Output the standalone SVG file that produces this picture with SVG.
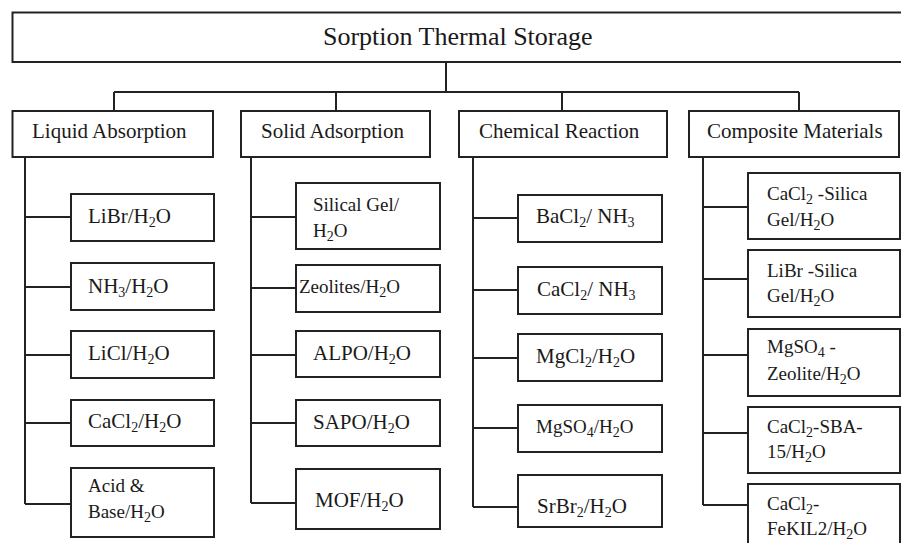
<svg xmlns="http://www.w3.org/2000/svg" width="901" height="543" viewBox="0 0 901 543">
<style>
.box{fill:#fff;stroke:#222;stroke-width:2}
.ln{fill:none;stroke:#222;stroke-width:2}
text{font-family:"Liberation Serif","Times New Roman",serif;fill:#1a1a1a}
.t{font-size:26px}
.c{font-size:21px}
.n{font-size:21px}
.s{font-size:19px}
.sub{font-size:14px}
</style>
<rect width="901" height="543" fill="#fff"/>
<g id="connectors">
<path class="ln" d="M446 62V92M114 92H799M114 92V111M336 92V111M562 92V111M799 92V111"/>
<path class="ln" d="M25 157V504M25 217H71M25 287H71M25 355H71M25 423H71M25 504H71"/>
<path class="ln" d="M251 157V503M251 217H296M251 288H296M251 355H296M251 423H296M251 503H296"/>
<path class="ln" d="M473 157V507M473 218H518M473 290H518M473 358H518M473 428H518M473 507H518"/>
<path class="ln" d="M703 157V505M703 207H748M703 279H748M703 355H748M703 433H748M703 505H748"/>
</g>
<g id="root"><rect class="box" x="12.5" y="12.5" width="900" height="49.5"/><text class="t" x="323" y="45">Sorption Thermal Storage</text></g>
<g id="cat-liquid"><rect class="box" x="12.5" y="111" width="200.5" height="46"/><text class="c" x="32" y="138">Liquid Absorption</text></g>
<g id="cat-solid"><rect class="box" x="241" y="111" width="189" height="46"/><text class="c" x="261" y="138">Solid Adsorption</text></g>
<g id="cat-chem"><rect class="box" x="459" y="111" width="208" height="46"/><text class="c" x="479" y="138">Chemical Reaction</text></g>
<g id="cat-comp"><rect class="box" x="689" y="111" width="210" height="46"/><text class="c" x="707" y="138">Composite Materials</text></g>

<g id="l1"><rect class="box" x="71" y="194" width="143" height="47"/><text class="n" x="88" y="223">LiBr/H<tspan class="sub" dy="4">2</tspan><tspan dy="-4">O</tspan></text></g>
<g id="l2"><rect class="box" x="71" y="263" width="143" height="47"/><text class="n" x="88" y="293">NH<tspan class="sub" dy="4">3</tspan><tspan dy="-4">/H</tspan><tspan class="sub" dy="4">2</tspan><tspan dy="-4">O</tspan></text></g>
<g id="l3"><rect class="box" x="71" y="331" width="143" height="47"/><text class="n" x="88" y="360">LiCl/H<tspan class="sub" dy="4">2</tspan><tspan dy="-4">O</tspan></text></g>
<g id="l4"><rect class="box" x="71" y="400" width="143" height="46"/><text class="n" x="88" y="428">CaCl<tspan class="sub" dy="4">2</tspan><tspan dy="-4">/H</tspan><tspan class="sub" dy="4">2</tspan><tspan dy="-4">O</tspan></text></g>
<g id="l5"><rect class="box" x="71" y="468" width="143" height="69"/><text class="s" x="88" y="492">Acid &amp;</text><text class="s" x="88" y="518">Base/H<tspan class="sub" dy="4">2</tspan><tspan dy="-4">O</tspan></text></g>

<g id="s1"><rect class="box" x="296" y="183" width="144" height="66"/><text class="s" x="313" y="211">Silical Gel/</text><text class="s" x="313" y="237">H<tspan class="sub" dy="4">2</tspan><tspan dy="-4">O</tspan></text></g>
<g id="s2"><rect class="box" x="296" y="265" width="144" height="47"/><text class="s" x="299" y="293">Zeolites/H<tspan class="sub" dy="4">2</tspan><tspan dy="-4">O</tspan></text></g>
<g id="s3"><rect class="box" x="296" y="331" width="144" height="46"/><text class="n" x="313" y="360">ALPO/H<tspan class="sub" dy="4">2</tspan><tspan dy="-4">O</tspan></text></g>
<g id="s4"><rect class="box" x="296" y="400" width="144" height="46"/><text class="n" x="313" y="429">SAPO/H<tspan class="sub" dy="4">2</tspan><tspan dy="-4">O</tspan></text></g>
<g id="s5"><rect class="box" x="296" y="469" width="144" height="60"/><text class="n" x="315" y="507">MOF/H<tspan class="sub" dy="4">2</tspan><tspan dy="-4">O</tspan></text></g>

<g id="c1"><rect class="box" x="518" y="195" width="144" height="47"/><text class="n" x="536" y="223">BaCl<tspan class="sub" dy="4">2</tspan><tspan dy="-4">/ NH</tspan><tspan class="sub" dy="4">3</tspan></text></g>
<g id="c2"><rect class="box" x="518" y="267" width="144" height="47"/><text class="n" x="537" y="296">CaCl<tspan class="sub" dy="4">2</tspan><tspan dy="-4">/ NH</tspan><tspan class="sub" dy="4">3</tspan></text></g>
<g id="c3"><rect class="box" x="518" y="334" width="144" height="47"/><text class="n" x="536" y="363">MgCl<tspan class="sub" dy="4">2</tspan><tspan dy="-4">/H</tspan><tspan class="sub" dy="4">2</tspan><tspan dy="-4">O</tspan></text></g>
<g id="c4"><rect class="box" x="518" y="405" width="144" height="47"/><text class="s" x="536" y="433">MgSO<tspan class="sub" dy="4">4</tspan><tspan dy="-4">/H</tspan><tspan class="sub" dy="4">2</tspan><tspan dy="-4">O</tspan></text></g>
<g id="c5"><rect class="box" x="518" y="475" width="144" height="52"/><text class="n" x="537" y="513">SrBr<tspan class="sub" dy="4">2</tspan><tspan dy="-4">/H</tspan><tspan class="sub" dy="4">2</tspan><tspan dy="-4">O</tspan></text></g>

<g id="m1"><rect class="box" x="748" y="173" width="152" height="66"/><text class="s" x="767" y="200">CaCl<tspan class="sub" dy="4">2</tspan><tspan dy="-4"> -Silica</tspan></text><text class="s" x="767" y="226">Gel/H<tspan class="sub" dy="4">2</tspan><tspan dy="-4">O</tspan></text></g>
<g id="m2"><rect class="box" x="748" y="250" width="152" height="67"/><text class="s" x="767" y="277">LiBr -Silica</text><text class="s" x="767" y="302">Gel/H<tspan class="sub" dy="4">2</tspan><tspan dy="-4">O</tspan></text></g>
<g id="m3"><rect class="box" x="748" y="329" width="152" height="67"/><text class="s" x="767" y="353">MgSO<tspan class="sub" dy="4">4</tspan><tspan dy="-4"> -</tspan></text><text class="s" x="767" y="380">Zeolite/H<tspan class="sub" dy="4">2</tspan><tspan dy="-4">O</tspan></text></g>
<g id="m4"><rect class="box" x="748" y="407" width="152" height="66"/><text class="s" x="767" y="433">CaCl<tspan class="sub" dy="4">2</tspan><tspan dy="-4">-SBA-</tspan></text><text class="s" x="767" y="458">15/H<tspan class="sub" dy="4">2</tspan><tspan dy="-4">O</tspan></text></g>
<g id="m5"><rect class="box" x="748" y="484" width="152" height="70"/><text class="s" x="767" y="510">CaCl<tspan class="sub" dy="4">2</tspan><tspan dy="-4">-</tspan></text><text class="s" x="767" y="535">FeKIL2/H<tspan class="sub" dy="4">2</tspan><tspan dy="-4">O</tspan></text></g>
</svg>
